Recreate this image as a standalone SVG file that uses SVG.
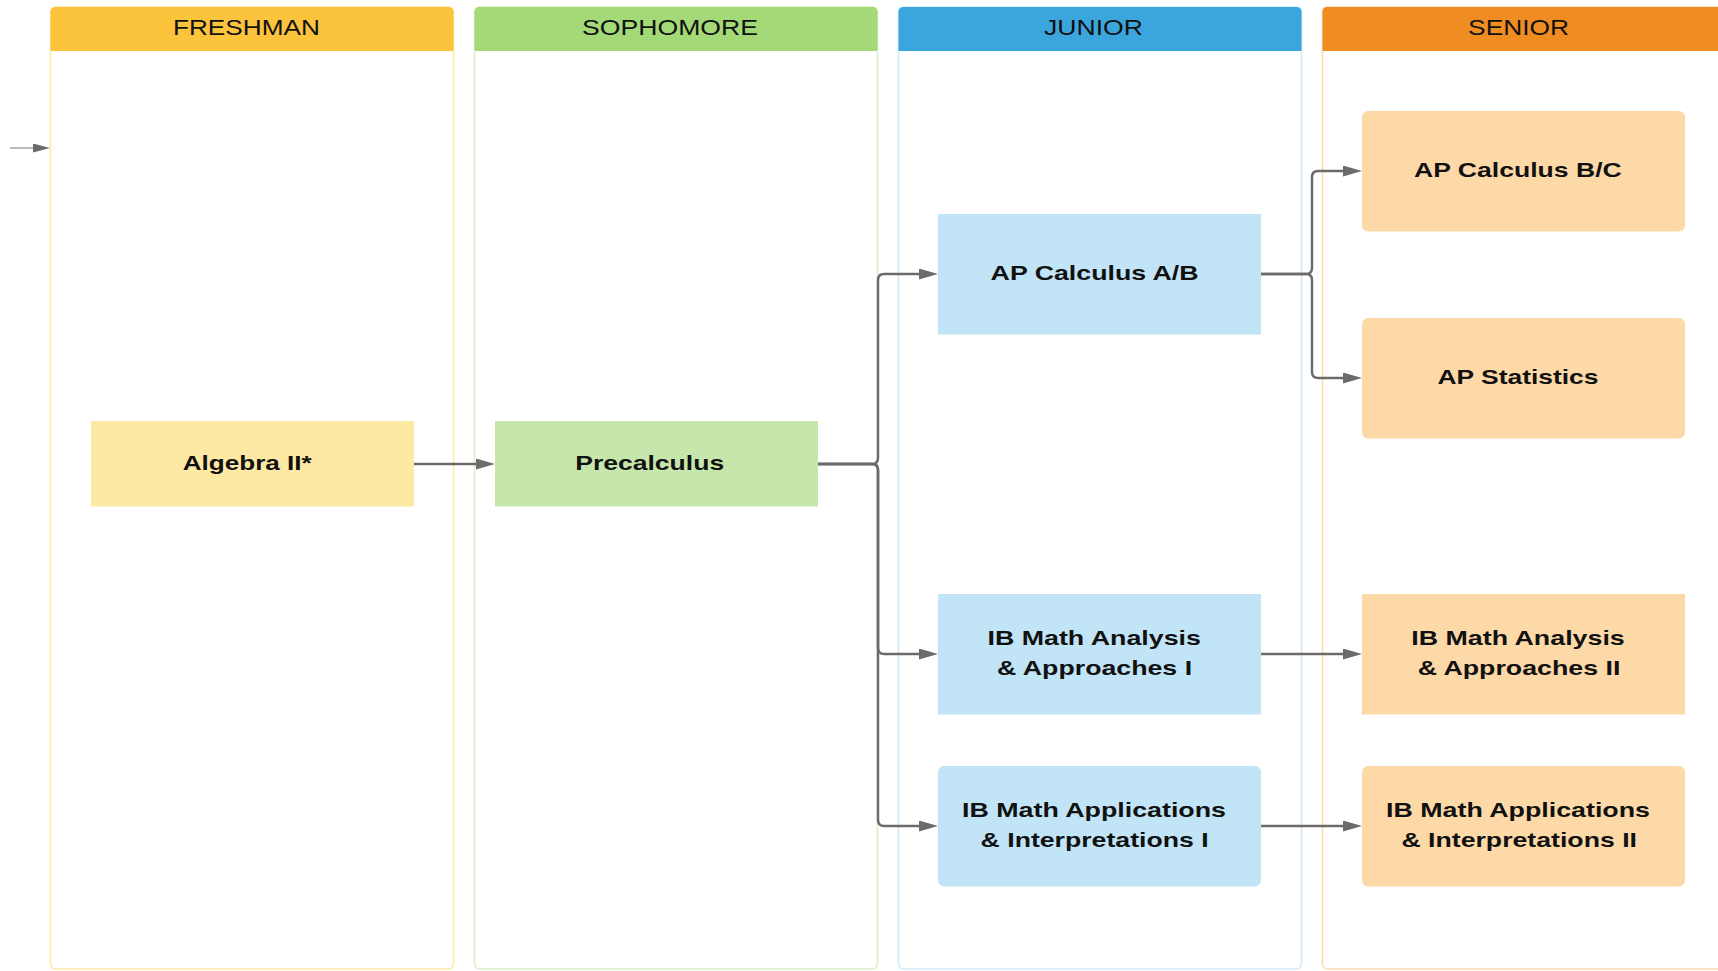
<svg xmlns="http://www.w3.org/2000/svg" width="1718" height="971" viewBox="0 0 1718 971">
  <defs>
    <marker id="ah" markerUnits="userSpaceOnUse" markerWidth="19" markerHeight="12" refX="0" refY="5.5" orient="auto">
      <path d="M0 0 L19 5.5 L0 11 z" fill="#6b6b6b"/>
    </marker>
    <marker id="ahs" markerUnits="userSpaceOnUse" markerWidth="17" markerHeight="10" refX="0" refY="4.5" orient="auto">
      <path d="M0 0 L17 4.5 L0 9 z" fill="#6b6b6b"/>
    </marker>
    <style>
      .hdr { font-family: "Liberation Sans", Arial, sans-serif; font-size: 22.5px; fill: #111; text-anchor: middle; }
      .lbl { font-family: "Liberation Sans", Arial, sans-serif; font-size: 21px; font-weight: bold; fill: #111; text-anchor: middle; }
      .conn { fill: none; stroke: #6b6b6b; stroke-width: 2.5; }
      .body { fill: #ffffff; stroke-width: 1.5; }
    </style>
  </defs>
  <rect width="1718" height="971" fill="#ffffff"/>

  <g id="lane-freshman">
    <rect class="body" x="50.5" y="7" width="403" height="962" rx="5" stroke="#fee8a6"/>
    <path d="M50.5 51 V12 Q50.5 7 55.5 7 H448.5 Q453.5 7 453.5 12 V51 z" fill="#fcc43c"/>
    <text class="hdr" x="246.4" y="35" textLength="147" lengthAdjust="spacingAndGlyphs">FRESHMAN</text>
  </g>
  <g id="lane-sophomore">
    <rect class="body" x="474.5" y="7" width="403" height="962" rx="5" stroke="#d9f0c8"/>
    <path d="M474.5 51 V12 Q474.5 7 479.5 7 H872.5 Q877.5 7 877.5 12 V51 z" fill="#a3d977"/>
    <text class="hdr" x="670" y="35" textLength="176" lengthAdjust="spacingAndGlyphs">SOPHOMORE</text>
  </g>
  <g id="lane-junior">
    <rect class="body" x="898.5" y="7" width="403" height="962" rx="5" stroke="#d2eaf8"/>
    <path d="M898.5 51 V12 Q898.5 7 903.5 7 H1296.5 Q1301.5 7 1301.5 12 V51 z" fill="#3ba6de"/>
    <text class="hdr" x="1093.5" y="35" textLength="99" lengthAdjust="spacingAndGlyphs">JUNIOR</text>
  </g>
  <g id="lane-senior">
    <rect class="body" x="1322.5" y="7" width="403" height="962" rx="5" stroke="#fcd9ad"/>
    <path d="M1322.5 51 V12 Q1322.5 7 1327.5 7 H1720.5 Q1725.5 7 1725.5 12 V51 z" fill="#ef8d22"/>
    <text class="hdr" x="1518.6" y="35" textLength="101" lengthAdjust="spacingAndGlyphs">SENIOR</text>
  </g>

  <g id="algebra2">
    <rect x="91" y="421" width="323" height="85.5" fill="#fee9a4"/>
    <text class="lbl" x="247.2" y="469.5" textLength="129" lengthAdjust="spacingAndGlyphs">Algebra II*</text>
  </g>
  <g id="precalculus">
    <rect x="495" y="421" width="323" height="85.5" fill="#c6e7ab"/>
    <text class="lbl" x="649.7" y="469.5" textLength="149" lengthAdjust="spacingAndGlyphs">Precalculus</text>
  </g>
  <g id="ap-calc-ab">
    <rect x="938" y="214" width="323" height="120.5" fill="#c1e4f7"/>
    <text class="lbl" x="1094.6" y="279.5" textLength="208" lengthAdjust="spacingAndGlyphs">AP Calculus A/B</text>
  </g>
  <g id="ib-aa-1">
    <rect x="938" y="594" width="323" height="120.5" fill="#c1e4f7"/>
    <text class="lbl" x="1094.2" y="645" textLength="213.5" lengthAdjust="spacingAndGlyphs">IB Math Analysis</text>
    <text class="lbl" x="1094.6" y="675" textLength="195" lengthAdjust="spacingAndGlyphs">&amp; Approaches I</text>
  </g>
  <g id="ib-ai-1">
    <rect x="938" y="766" width="323" height="120.5" rx="6" fill="#c1e4f7"/>
    <text class="lbl" x="1094" y="817" textLength="264" lengthAdjust="spacingAndGlyphs">IB Math Applications</text>
    <text class="lbl" x="1094.6" y="847" textLength="228" lengthAdjust="spacingAndGlyphs">&amp; Interpretations I</text>
  </g>
  <g id="ap-calc-bc">
    <rect x="1362" y="111" width="323" height="120.5" rx="6" fill="#fed9a8"/>
    <text class="lbl" x="1517.9" y="176.7" textLength="207.7" lengthAdjust="spacingAndGlyphs">AP Calculus B/C</text>
  </g>
  <g id="ap-stats">
    <rect x="1362" y="318" width="323" height="120.5" rx="6" fill="#fed9a8"/>
    <text class="lbl" x="1518" y="383.7" textLength="161" lengthAdjust="spacingAndGlyphs">AP Statistics</text>
  </g>
  <g id="ib-aa-2">
    <rect x="1362" y="594" width="323" height="120.5" fill="#fed9a8"/>
    <text class="lbl" x="1518" y="645" textLength="213.5" lengthAdjust="spacingAndGlyphs">IB Math Analysis</text>
    <text class="lbl" x="1519" y="675" textLength="202.7" lengthAdjust="spacingAndGlyphs">&amp; Approaches II</text>
  </g>
  <g id="ib-ai-2">
    <rect x="1362" y="766" width="323" height="120.5" rx="6" fill="#fed9a8"/>
    <text class="lbl" x="1518" y="817" textLength="264" lengthAdjust="spacingAndGlyphs">IB Math Applications</text>
    <text class="lbl" x="1519.2" y="847" textLength="235.6" lengthAdjust="spacingAndGlyphs">&amp; Interpretations II</text>
  </g>

  <g id="connectors">
    <path d="M10 148 H33" fill="none" stroke="#8a8a8a" stroke-width="1.2" marker-end="url(#ahs)"/>
    <path class="conn" d="M414 464 H476" marker-end="url(#ah)"/>
    <path class="conn" d="M818 464 H872 Q878 464 878 458 V280 Q878 274 884 274 H919" marker-end="url(#ah)"/>
    <path class="conn" d="M818 464 H872 Q878 464 878 470 V648 Q878 654 884 654 H919" marker-end="url(#ah)"/>
    <path class="conn" d="M818 464 H872 Q878 464 878 470 V820 Q878 826 884 826 H919" marker-end="url(#ah)"/>
    <path class="conn" d="M1261 274 H1306 Q1312 274 1312 268 V177 Q1312 171 1318 171 H1343" marker-end="url(#ah)"/>
    <path class="conn" d="M1261 274 H1306 Q1312 274 1312 280 V372 Q1312 378 1318 378 H1343" marker-end="url(#ah)"/>
    <path class="conn" d="M1261 654 H1343" marker-end="url(#ah)"/>
    <path class="conn" d="M1261 826 H1343" marker-end="url(#ah)"/>
  </g>
</svg>
